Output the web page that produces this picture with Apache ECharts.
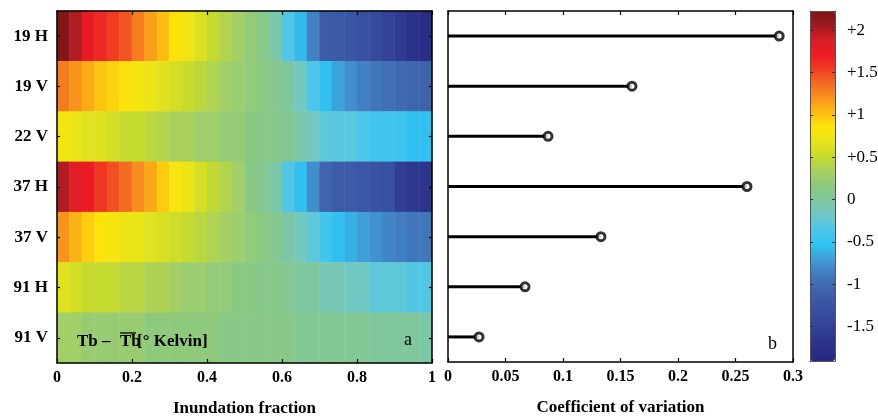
<!DOCTYPE html>
<html>
<head>
<meta charset="utf-8">
<script src="https://cdn.jsdelivr.net/npm/echarts@6/dist/echarts.min.js"></script>
<style>
    html, body { margin: 0; padding: 0; background: #fff; }
    #main { width: 878px; height: 418px; }
</style>
</head>
<body>
<div id="main"></div>
<script>
// 通道名称
var rowNames = ['19 H', '19 V', '22 V', '37 H', '37 V', '91 H', '91 V'];

// Tb - mean(Tb), 每个通道 30 个淹没比例区间
var tb19H = [2.2, 2.0, 1.75, 1.65, 1.55, 1.45, 1.3, 1.15, 1.03, 0.87, 0.75, 0.62, 0.5, 0.4, 0.3, 0.2, 0.1, -0.05, -0.33, -0.58, -0.85, -1.15, -1.18, -1.22, -1.3, -1.38, -1.48, -1.6, -1.72, -1.8];
var tb19V = [1.3, 1.2, 1.1, 1.0, 0.93, 0.87, 0.78, 0.72, 0.65, 0.58, 0.52, 0.45, 0.38, 0.3, 0.25, 0.2, 0.14, 0.08, 0.0, -0.15, -0.35, -0.55, -0.68, -0.78, -0.86, -0.93, -0.98, -1.02, -1.06, -1.08];
var tb22V = [0.78, 0.72, 0.64, 0.64, 0.58, 0.5, 0.5, 0.45, 0.4, 0.35, 0.35, 0.28, 0.28, 0.22, 0.22, 0.16, 0.1, 0.1, 0.05, -0.05, -0.15, -0.27, -0.3, -0.3, -0.36, -0.42, -0.42, -0.46, -0.55, -0.55];
var tb37H = [2.0, 1.8, 1.72, 1.58, 1.47, 1.37, 1.23, 1.12, 0.97, 0.8, 0.72, 0.58, 0.48, 0.4, 0.3, 0.14, 0.08, -0.05, -0.32, -0.55, -0.78, -1.05, -1.15, -1.18, -1.22, -1.28, -1.32, -1.55, -1.65, -1.68];
var tb37V = [1.2, 1.07, 0.96, 0.86, 0.78, 0.74, 0.7, 0.64, 0.59, 0.55, 0.5, 0.44, 0.38, 0.32, 0.26, 0.2, 0.14, 0.07, -0.03, -0.15, -0.27, -0.42, -0.55, -0.62, -0.7, -0.77, -0.83, -0.87, -0.92, -0.93];
var tb91H = [0.65, 0.57, 0.5, 0.5, 0.5, 0.43, 0.43, 0.37, 0.37, 0.31, 0.26, 0.26, 0.2, 0.2, 0.14, 0.14, 0.1, 0.1, 0.06, 0.0, 0.0, -0.1, -0.1, -0.17, -0.17, -0.27, -0.27, -0.27, -0.33, -0.33];
var tb91V = [0.3, 0.3, 0.24, 0.24, 0.24, 0.24, 0.24, 0.18, 0.18, 0.18, 0.18, 0.18, 0.18, 0.12, 0.12, 0.12, 0.12, 0.12, 0.12, 0.06, 0.06, 0.06, 0.06, 0.06, 0.06, 0.01, 0.01, 0.01, 0.01, -0.05];

// 变异系数
var cvValues = [0.288, 0.16, 0.087, 0.26, 0.133, 0.067, 0.027];

// 色标刻度
var colorTicks = [-1.5, -1, -0.5, 0, 0.5, 1, 1.5, 2];
var colorMin = -1.91, colorMax = 2.23;

(function() {
    var serif = 'Liberation Serif';
    var rows = [tb19H, tb19V, tb22V, tb37H, tb37V, tb91H, tb91V];

    // 区间类目 (只用于格子定位)
    var fracBins = [];
    for (var i = 0; i < tb19H.length; i++) {
        fracBins.push(String(i));
    }

    var heatData = [];
    rows.forEach(function(r, ri) {
        r.forEach(function(v, ci) {
            heatData.push([ci, ri, v]);
        });
    });

    // jet 色带, 从低到高
    var jet = ['#27297f', '#2b3088', '#313d94', '#374a9e', '#3b56a4', '#3f66ad', '#417dc0', '#3f9ed6',
        '#2fc4f2', '#4cc6ea', '#70c8c8', '#7ec7a0', '#8cc980', '#a7d061', '#c6da2e', '#e6e41a',
        '#fde50b', '#fdbf12', '#f7951d', '#f36c21', '#ef3e23', '#ed1c24', '#d81f26', '#9e1b21', '#7c1517'];

    var axisLine = {show: true, onZero: false, lineStyle: {color: '#000', width: 1.5}};
    var barLine = {show: true, onZero: false, lineStyle: {color: '#555', width: 1}};
    var tickIn = {show: true, inside: true, length: 4, lineStyle: {color: '#000', width: 1.2}};
    var boldLabel = {fontFamily: serif, fontWeight: 'bold', fontSize: 16, color: '#000'};
    var nameStyle = {fontFamily: serif, fontWeight: 'bold', fontSize: 17, color: '#000'};

    var chart = echarts.init(document.getElementById('main'));
    var option = {
        backgroundColor: '#fff',
        animation: false,
        grid: [
            {left: 57, top: 11, width: 375, height: 352, outerBoundsMode: 'none'},
            {left: 448, top: 11, width: 345, height: 351, outerBoundsMode: 'none'},
            {left: 810, top: 11, width: 25, height: 350, outerBoundsMode: 'none'}
        ],
        xAxis: [
            {type: 'category', gridIndex: 0, data: fracBins, show: false},
            {
                type: 'value', gridIndex: 0, min: 0, max: 1, interval: 0.2, position: 'bottom', z: 10,
                axisLine: axisLine, axisTick: tickIn, splitLine: {show: false},
                axisLabel: Object.assign({margin: 7}, boldLabel),
                name: 'Inundation fraction', nameLocation: 'middle', nameGap: 37, nameTextStyle: nameStyle
            },
            {
                type: 'value', gridIndex: 0, min: 0, max: 1, interval: 0.2, position: 'top', z: 10,
                axisLine: axisLine, axisTick: tickIn, splitLine: {show: false}, axisLabel: {show: false}
            },
            {
                type: 'value', gridIndex: 1, min: 0, max: 0.3, interval: 0.05, position: 'bottom', z: 10,
                axisLine: axisLine, axisTick: tickIn, splitLine: {show: false},
                axisLabel: Object.assign({margin: 7}, boldLabel),
                name: 'Coefficient of variation', nameLocation: 'middle', nameGap: 37, nameTextStyle: nameStyle
            },
            {
                type: 'value', gridIndex: 1, min: 0, max: 0.3, interval: 0.05, position: 'top', z: 10,
                axisLine: axisLine, axisTick: tickIn, splitLine: {show: false}, axisLabel: {show: false}
            },
            {
                type: 'value', gridIndex: 2, min: 0, max: 1, position: 'bottom', z: 10,
                axisLine: barLine, axisTick: {show: false}, axisLabel: {show: false}, splitLine: {show: false}
            },
            {
                type: 'value', gridIndex: 2, min: 0, max: 1, position: 'top', z: 10,
                axisLine: barLine, axisTick: {show: false}, axisLabel: {show: false}, splitLine: {show: false}
            }
        ],
        yAxis: [
            {
                type: 'category', gridIndex: 0, data: rowNames, inverse: true, position: 'left', z: 10,
                axisLine: axisLine,
                axisTick: {show: true, inside: true, length: 3, alignWithLabel: true, lineStyle: {color: '#000', width: 1.2}},
                axisLabel: {fontFamily: serif, fontWeight: 'bold', fontSize: 17, color: '#000', margin: 9}
            },
            {
                type: 'category', gridIndex: 0, data: rowNames, inverse: true, position: 'right', z: 10,
                axisLine: axisLine,
                axisTick: {show: true, inside: true, length: 3, alignWithLabel: true, lineStyle: {color: '#000', width: 1.2}},
                axisLabel: {show: false}
            },
            {
                type: 'category', gridIndex: 1, data: rowNames, inverse: true, position: 'left', z: 10,
                axisLine: axisLine, axisTick: {show: false}, axisLabel: {show: false}
            },
            {
                type: 'category', gridIndex: 1, data: rowNames, inverse: true, position: 'right', z: 10,
                axisLine: axisLine, axisTick: {show: false}, axisLabel: {show: false}
            },
            {
                type: 'value', gridIndex: 2, min: colorMin, max: colorMax, position: 'left', z: 10,
                axisLine: barLine,
                axisTick: {show: true, inside: true, length: 3, customValues: colorTicks, lineStyle: {color: '#333'}},
                axisLabel: {show: false}, splitLine: {show: false}
            },
            {
                type: 'value', gridIndex: 2, min: colorMin, max: colorMax, position: 'right', z: 10,
                axisLine: barLine,
                axisTick: {show: true, inside: true, length: 3, customValues: colorTicks, lineStyle: {color: '#333'}},
                axisLabel: {
                    customValues: colorTicks, margin: 12,
                    fontFamily: serif, fontSize: 17, color: '#000',
                    formatter: function(v) {
                        return v > 0 ? '+' + v : String(v);
                    }
                },
                splitLine: {show: false}
            }
        ],
        visualMap: {
            type: 'continuous',
            seriesIndex: 0,
            min: colorMin,
            max: colorMax,
            left: 810,
            top: 11,
            itemWidth: 25,
            itemHeight: 350,
            padding: 0,
            z: 1,
            calculable: false,
            hoverLink: false,
            inRange: {color: jet}
        },
        series: [
            {
                type: 'heatmap',
                xAxisIndex: 0,
                yAxisIndex: 0,
                data: heatData,
                itemStyle: {borderWidth: 0}
            },
            {
                type: 'bar',
                xAxisIndex: 3,
                yAxisIndex: 2,
                data: cvValues,
                barWidth: 3,
                itemStyle: {color: '#000'}
            },
            {
                type: 'scatter',
                xAxisIndex: 3,
                yAxisIndex: 2,
                data: cvValues.map(function(v, i) { return [v, i]; }),
                symbol: 'circle',
                symbolSize: 8,
                z: 5,
                itemStyle: {color: '#fff', borderColor: '#000', borderWidth: 3}
            }
        ],
        graphic: [
            {type: 'text', left: 77, top: 333, z: 20,
                style: {text: 'Tb –', font: 'bold 17px "Liberation Serif"', fill: '#000'}},
            {type: 'text', left: 120, top: 333, z: 20,
                style: {text: 'Tb', font: 'bold 17px "Liberation Serif"', fill: '#000'}},
            {type: 'line', z: 20, shape: {x1: 120, y1: 333, x2: 136, y2: 333},
                style: {stroke: '#000', lineWidth: 1.3}},
            {type: 'text', left: 137, top: 333, z: 20,
                style: {text: '[° Kelvin]', font: 'bold 17px "Liberation Serif"', fill: '#000'}},
            {type: 'text', left: 404, top: 331, z: 20,
                style: {text: 'a', font: '18px "Liberation Serif"', fill: '#000'}},
            {type: 'text', left: 768, top: 335, z: 20,
                style: {text: 'b', font: '18px "Liberation Serif"', fill: '#000'}}
        ]
    };
    chart.setOption(option);
})();
</script>
</body>
</html>
